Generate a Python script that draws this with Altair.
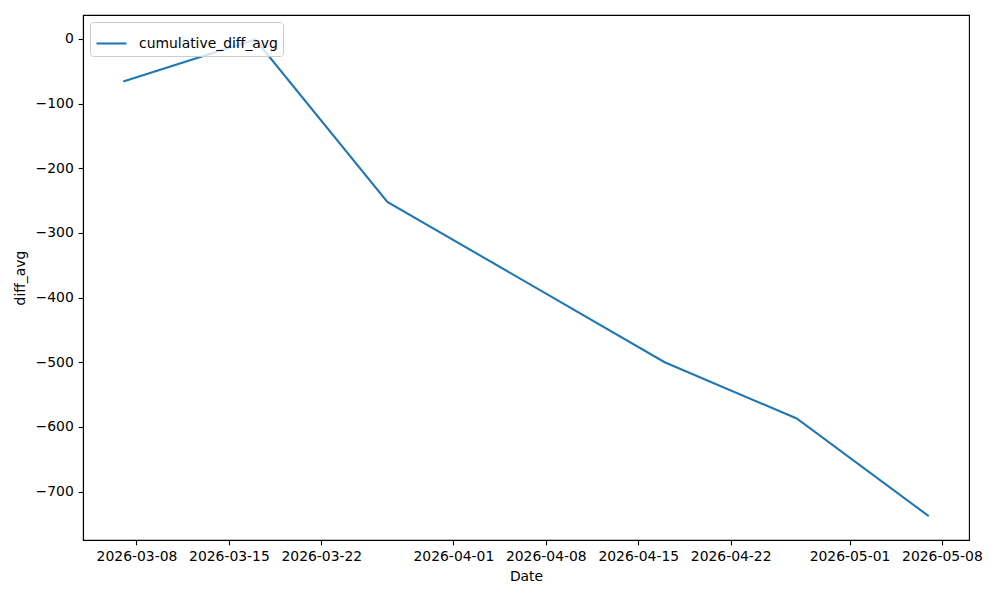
import altair as alt
import pandas as pd

dates = ["2026-03-07", "2026-03-17", "2026-03-27", "2026-04-17", "2026-04-27", "2026-05-07"]
values = [-66, -1, -252, -500, -587, -738]
series = ["cumulative_diff_avg"] * len(dates)

tick_dates = [(2026, 3, 8), (2026, 3, 15), (2026, 3, 22), (2026, 4, 1), (2026, 4, 8),
              (2026, 4, 15), (2026, 4, 22), (2026, 5, 1), (2026, 5, 8)]
y_ticks = [0, -100, -200, -300, -400, -500, -600, -700]

df = pd.DataFrame({"Date": dates, "diff_avg": values, "series": series})

FONT = "DejaVu Sans"
FS = 13.9

x_values = [alt.DateTime(year=y, month=m, date=d, utc=True) for (y, m, d) in tick_dates]

chart = alt.Chart(df).mark_line(strokeWidth=2.08).encode(
    x=alt.X("Date:T",
            scale=alt.Scale(type="utc",
                            domain=[alt.DateTime(year=2026, month=3, date=3, hours=22, minutes=48, utc=True),
                                    alt.DateTime(year=2026, month=5, date=10, hours=1, minutes=12, utc=True)]),
            axis=alt.Axis(values=x_values, format="%Y-%m-%d", title="Date",
                          labelAngle=0, grid=False)),
    y=alt.Y("diff_avg:Q",
            scale=alt.Scale(domain=[-774.9, 36.9], nice=False, zero=False),
            axis=alt.Axis(values=y_ticks, format="d", title="diff_avg", grid=False)),
    color=alt.Color("series:N", scale=alt.Scale(range=["#1f77b4"]),
                    legend=alt.Legend(title=None, orient="top-left", offset=7,
                                      symbolType="stroke", symbolStrokeWidth=2.08,
                                      symbolSize=900, labelFontSize=FS, labelFont=FONT,
                                      labelColor="black", labelOffset=11,
                                      strokeColor="#cccccc", fillColor="rgba(255,255,255,0.8)",
                                      cornerRadius=3, padding=5)),
).properties(
    width=886, height=525,
    autosize=alt.AutoSizeParams(type="none"),
    padding={"left": 75, "top": 7, "right": 23, "bottom": 52},
).configure_view(
    stroke="black", strokeWidth=1.1
).configure_axis(
    labelFont=FONT, labelFontSize=FS, labelColor="black",
    titleFont=FONT, titleFontSize=FS, titleColor="black", titleFontWeight="normal",
    domainColor="black", domainWidth=1.1, tickColor="black", tickWidth=1.1,
    tickSize=4.86, labelPadding=4.86, labelFlush=False, labelOverlap=False,
).configure_axisX(
    titlePadding=6
).configure_axisY(
    titlePadding=8
)

chart.save("out.html", embed_options={"renderer": "svg", "actions": False})
